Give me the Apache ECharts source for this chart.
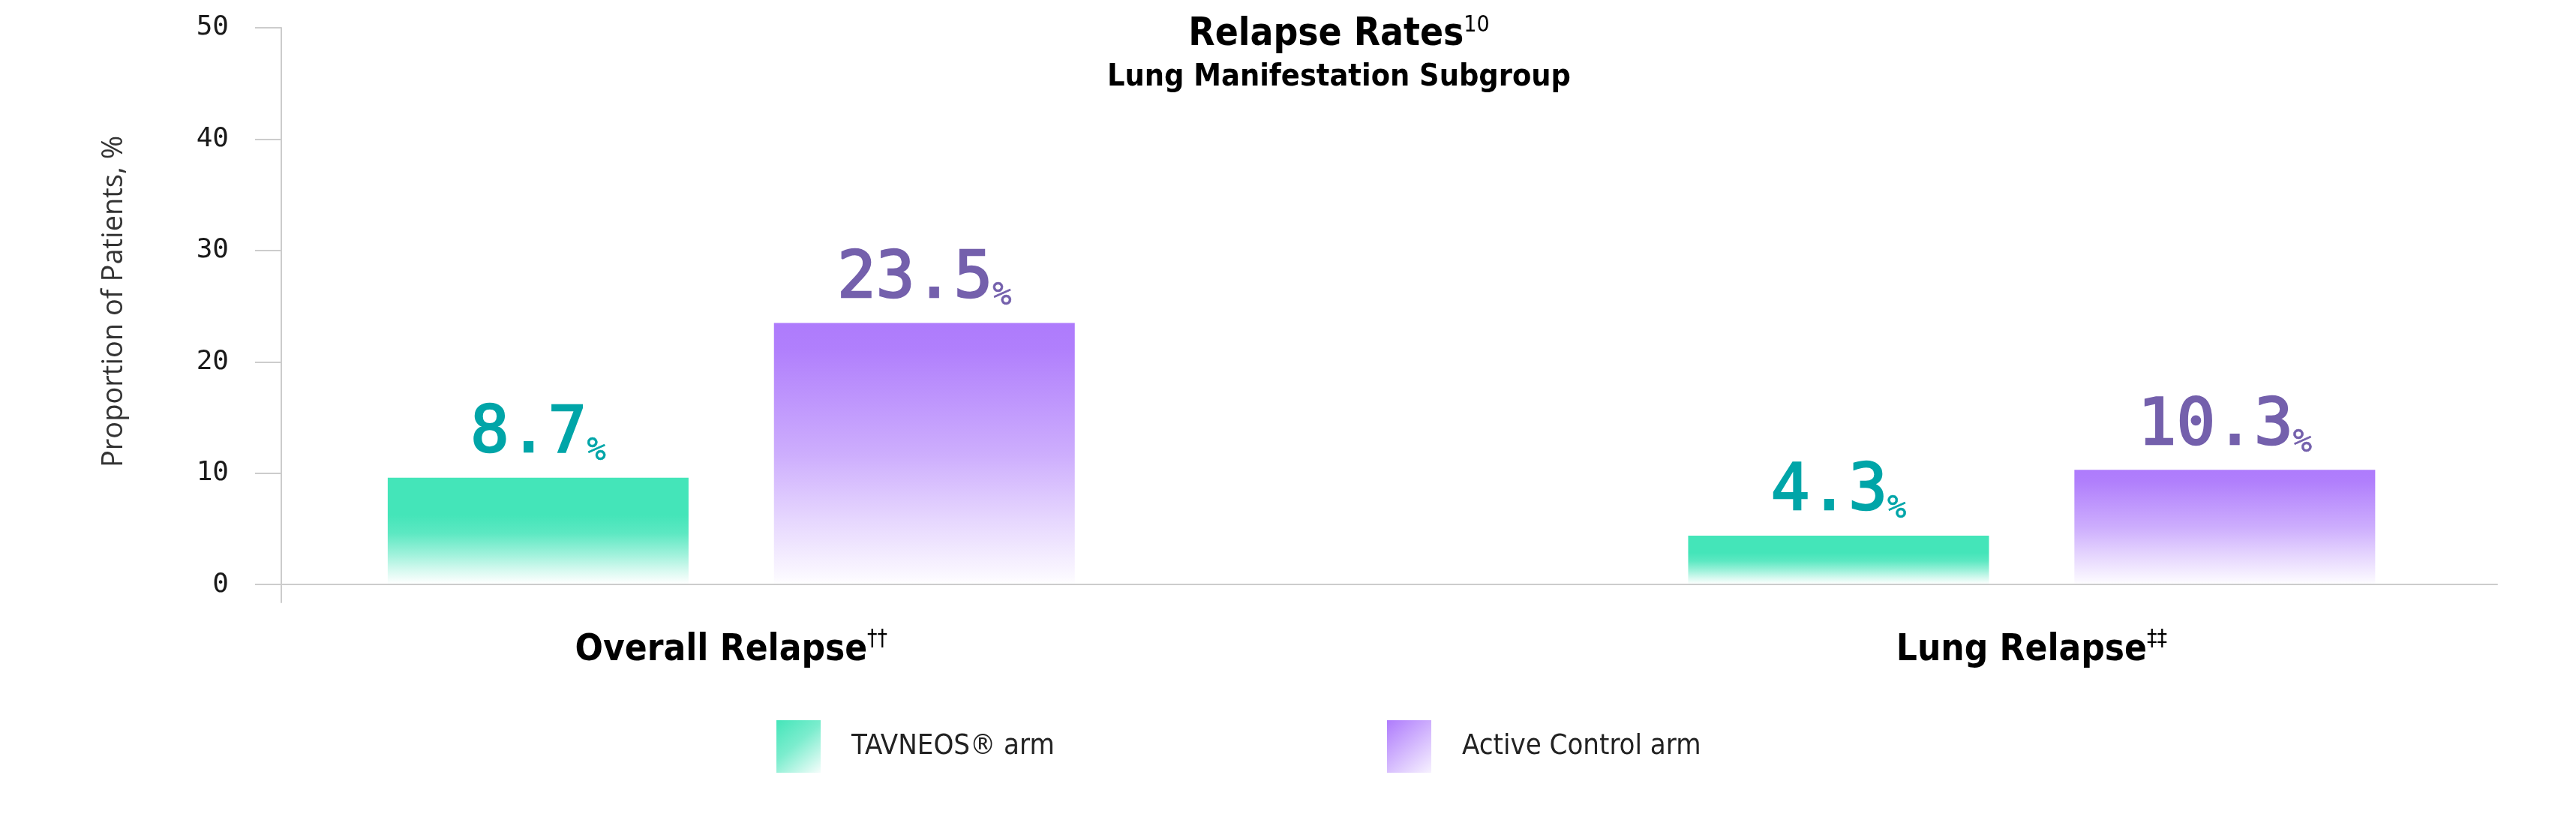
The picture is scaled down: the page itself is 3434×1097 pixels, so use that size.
<!DOCTYPE html>
<html>
<head>
<meta charset="utf-8">
<title>Relapse Rates</title>
<script src="https://cdn.jsdelivr.net/npm/echarts@6/dist/echarts.min.js"></script>
<style>
html, body { margin: 0; padding: 0; background: #fff; }
#chart { width: 3434px; height: 1097px; }
</style>
</head>
<body>
<div id="chart"></div>
<script>
var categories = ['Overall Relapse', 'Lung Relapse'];
var categoryMarks = ['\u2020\u2020', '\u2021\u2021'];
var seriesNames = ['TAVNEOS\u00ae arm', 'Active Control arm'];
// bar heights as they are drawn in the picture
var tavneosValues = [9.6, 4.4];
var controlValues = [23.5, 10.3];
// numbers printed above the bars
var tavneosLabels = ['8.7', '4.3'];
var controlLabels = ['23.5', '10.3'];
var yTicks = [0, 10, 20, 30, 40, 50];

var condensed = "'Liberation Sans Narrow', 'DejaVu Sans Condensed', Roboto, sans-serif";
var mono = "'DejaVu Sans Mono', 'Liberation Mono', monospace";

function fade(rgb, stops, diagonal) {
	return {
		type: 'linear', x: 0, y: 0, x2: diagonal ? 1 : 0, y2: 1,
		colorStops: stops.map(function (s) {
			return { offset: s[0], color: 'rgba(' + rgb + ',' + s[1] + ')' };
		})
	};
}

var green = '68,229,185';
var purple = '174,123,252';
var greenBar = fade(green, [[0, 1], [0.35, 1], [0.52, 0.87], [0.72, 0.51], [0.87, 0.21], [0.97, 0.04], [1, 0]]);
var purpleBar = fade(purple, [[0, 1], [0.1, 0.97], [0.5, 0.62], [0.75, 0.31], [0.97, 0.05], [1, 0]]);
var greenIcon = fade(green, [[0, 1], [0.45, 0.7], [1, 0.05]], true);
var purpleIcon = fade(purple, [[0, 1], [0.45, 0.6], [1, 0.1]], true);

function points(values) {
	return values.map(function (v, i) { return [i + 1, v]; });
}

function valueLabel(texts, color) {
	return {
		show: true,
		position: 'top',
		distance: 14,
		formatter: function (p) { return '{v|' + texts[p.dataIndex] + '}{p|%}'; },
		rich: {
			v: { fontFamily: mono, fontSize: 86, color: color, lineHeight: 86, textBorderColor: color, textBorderWidth: 2.5 },
			p: { fontFamily: mono, fontSize: 42, color: color, lineHeight: 80, verticalAlign: 'bottom', textBorderColor: color, textBorderWidth: 0.6 }
		}
	};
}

let myChart = echarts.init(document.getElementById('chart'));
let option = {
	animation: false,
	backgroundColor: '#fff',
	title: {
		text: '{t|Relapse Rates}{s|10}',
		subtext: 'Lung Manifestation Subgroup',
		left: 1780,
		top: 14,
		textAlign: 'center',
		itemGap: 6,
		textStyle: {
			rich: {
				t: { fontFamily: condensed, fontWeight: 'bold', fontSize: 51, color: '#000', lineHeight: 56 },
				s: { fontFamily: condensed, fontWeight: 'normal', fontSize: 30, color: '#000', lineHeight: 30, verticalAlign: 'top' }
			}
		},
		subtextStyle: { fontFamily: condensed, fontWeight: 'bold', fontSize: 41, color: '#000', lineHeight: 50 }
	},
	legend: [{
		left: 1030, top: 955, itemWidth: 59, itemHeight: 70, icon: 'rect', selectedMode: false,
		data: [{ name: seriesNames[0], itemStyle: { color: greenIcon } }],
		textStyle: { fontFamily: condensed, fontSize: 38, color: '#222', padding: [0, 0, 0, 36] }
	}, {
		left: 1844, top: 955, itemWidth: 59, itemHeight: 70, icon: 'rect', selectedMode: false,
		data: [{ name: seriesNames[1], itemStyle: { color: purpleIcon } }],
		textStyle: { fontFamily: condensed, fontSize: 38, color: '#222', padding: [0, 0, 0, 36] }
	}],
	grid: { left: 375, right: 105, top: 37, bottom: 294, outerBoundsMode: 'none' },
	xAxis: {
		type: 'value',
		min: 0.654,
		max: 2.358,
		axisLine: { show: true, onZero: true, lineStyle: { color: '#cccccc', width: 2 } },
		axisTick: { show: false },
		splitLine: { show: false },
		axisLabel: {
			customValues: [1, 2],
			margin: 34,
			formatter: function (v) {
				let i = Math.round(v) - 1;
				return '{n|' + categories[i] + '}{s|' + categoryMarks[i] + '}';
			},
			rich: {
				n: { fontFamily: condensed, fontWeight: 'bold', fontSize: 49, color: '#000', lineHeight: 60 },
				s: { fontFamily: condensed, fontSize: 30, color: '#000', lineHeight: 30, verticalAlign: 'top' }
			}
		}
	},
	yAxis: {
		type: 'value',
		min: -1.6,
		max: 50,
		name: 'Proportion of Patients, %',
		nameLocation: 'middle',
		nameRotate: 90,
		nameGap: 204,
		nameTextStyle: { fontFamily: "'Open Sans', sans-serif", fontSize: 38, color: '#333', padding: [0, 0, 0, 36] },
		axisLine: { show: true, lineStyle: { color: '#cccccc', width: 2 } },
		axisTick: { show: true, length: 35, customValues: yTicks, lineStyle: { color: '#cccccc', width: 2 } },
		axisLabel: { customValues: yTicks, margin: 70, fontFamily: mono, fontSize: 36, color: '#1a1a1a' },
		splitLine: { show: false }
	},
	series: [{
		name: seriesNames[0],
		type: 'bar',
		barWidth: 401,
		barGap: '28.4%',
		data: points(tavneosValues),
		itemStyle: { color: greenBar },
		label: valueLabel(tavneosLabels, '#00A5A8')
	}, {
		name: seriesNames[1],
		type: 'bar',
		barWidth: 401,
		barGap: '28.4%',
		data: points(controlValues),
		itemStyle: { color: purpleBar },
		label: valueLabel(controlLabels, '#7460AC')
	}]
};
myChart.setOption(option);
</script>
</body>
</html>
